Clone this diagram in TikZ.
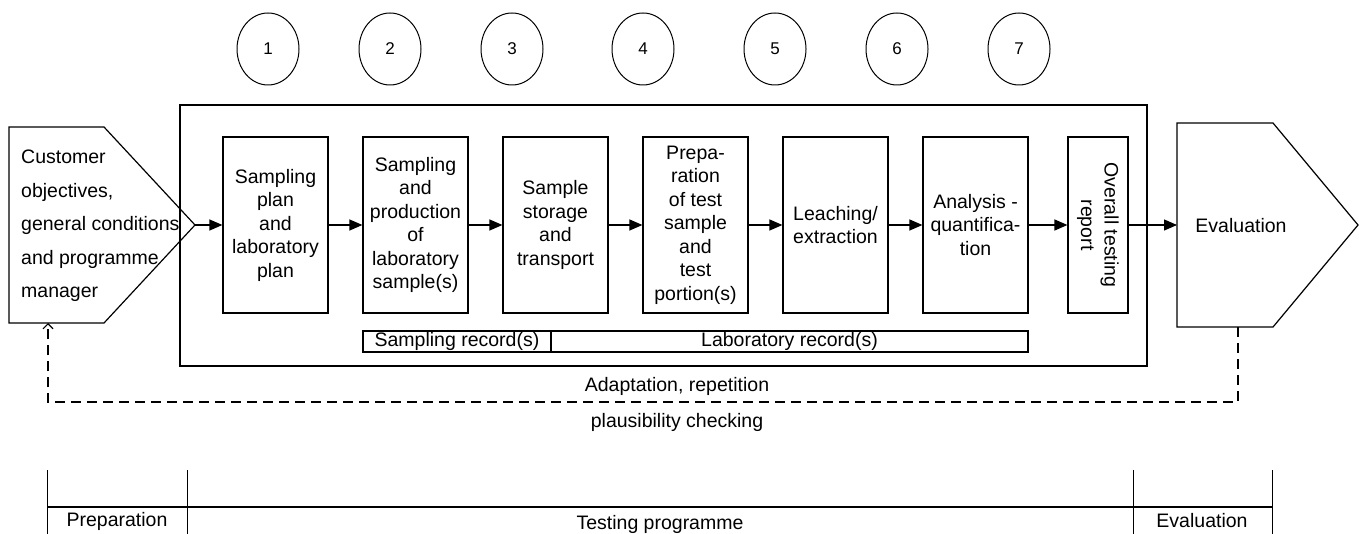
\documentclass[tikz,border=0pt]{standalone}
\usepackage{fontspec}
\setmainfont{Liberation Sans}
\usetikzlibrary{arrows.meta,shapes.geometric}
\begin{document}
\begin{tikzpicture}[x=1pt,y=-1pt,
  lw/.style={line width=1.2pt},
  txt/.style={font=\fontsize{19.5}{23.5}\selectfont},
  stepbox/.style={draw,line width=1.2pt,minimum width=105pt,minimum height=176pt,align=center,inner sep=0pt,txt},
  num/.style={draw,ellipse,minimum width=62pt,minimum height=72pt,line width=1pt,inner sep=0pt,font=\fontsize{17}{20}\selectfont},
  flow/.style={line width=1.2pt,-{Triangle[length=13pt,width=11pt]}},
  fb/.style={line width=1.1pt,dash pattern=on 10pt off 6pt,-{Straight Barb[length=5pt,width=10pt]}},
  rec/.style={draw,line width=1.1pt}]
\useasboundingbox (0,0) rectangle (1359,534);

% numbered circles
\foreach \i/\x in {1/268,2/390,3/512,4/643,5/775,6/897,7/1019}
  \node[num] (n\i) at (\x,49) {\i};

% outer frame
\draw[lw] (180,105) rectangle (1147,366);

% customer pentagon
\draw[lw] (9,127) -- (104,127) -- (195,225) -- (104,323) -- (9,323) -- cycle;
\coordinate (custtip) at (195,225);
\coordinate (custbot) at (48,323);
\node[txt,anchor=west,align=left,font=\fontsize{19.5}{33.5}\selectfont,inner sep=0pt] (cust) at (21,226)
  {Customer\\objectives,\\general conditions\\and programme\\manager};

% evaluation pentagon
\draw[lw] (1177,123) -- (1273,123) -- (1358,225) -- (1273,327) -- (1177,327) -- cycle;
\coordinate (evalleft) at (1177,225);
\coordinate (evalbot) at (1238,327);
\node[txt] (evaltxt) at (1241,226) {Evaluation};

% steps
\node[stepbox] (b1) at (275.5,225) {Sampling\\plan\\and\\laboratory\\plan};
\node[stepbox] (b2) at (415.5,225) {Sampling\\and\\production\\of\\laboratory\\sample(s)};
\node[stepbox] (b3) at (555.5,225) {Sample\\storage\\and\\transport};
\node[stepbox] (b4) at (695.5,225) {Prepa-\\ration\\of test\\sample\\and\\test\\portion(s)};
\node[stepbox] (b5) at (835.5,225) {Leaching/\\extraction};
\node[stepbox] (b6) at (975.5,225) {Analysis -\\quantifica-\\tion};
\node[stepbox,minimum width=60pt] (b7) at (1098,225) {};
\node[txt,rotate=-90,align=center,inner sep=0pt] (b7txt) at (b7.center) {Overall testing\\report};

% arrows
\draw[flow] (custtip) -- (b1.west);
\draw[flow] (b1) -- (b2);
\draw[flow] (b2) -- (b3);
\draw[flow] (b3) -- (b4);
\draw[flow] (b4) -- (b5);
\draw[flow] (b5) -- (b6);
\draw[flow] (b6) -- (b7);
\draw[flow] (b7) -- (evalleft);

% records
\draw[rec] (363,331) rectangle (551,352);
\draw[rec] (551,331) rectangle (1028,352);
\node[txt,inner sep=0pt] (rec1) at (457,341.5) {Sampling record(s)};
\node[txt,inner sep=0pt] (rec2) at (789.5,341.5) {Laboratory record(s)};

% feedback loop
\coordinate (fb1) at (1238,402);
\coordinate (fb2) at (48,402);
\draw[fb] (evalbot) -- (fb1) -- (fb2) -- (custbot);
\node[txt] (adapt) at (677,386) {Adaptation, repetition};
\node[txt] (plaus) at (677,422) {plausibility checking};

% timeline
\coordinate (t0) at (47,507);
\coordinate (t3) at (1272,507);
\draw[line width=1.1pt] (t0) -- (t3);
\foreach \x in {47,187,1133,1272}
  \draw[line width=1pt] (\x,470) -- (\x,534);
\node[txt] (prep) at (117,521) {Preparation};
\node[txt] (testp) at (660,524) {Testing programme};
\node[txt] (evalp) at (1202,521) {Evaluation};
\end{tikzpicture}
\end{document}
